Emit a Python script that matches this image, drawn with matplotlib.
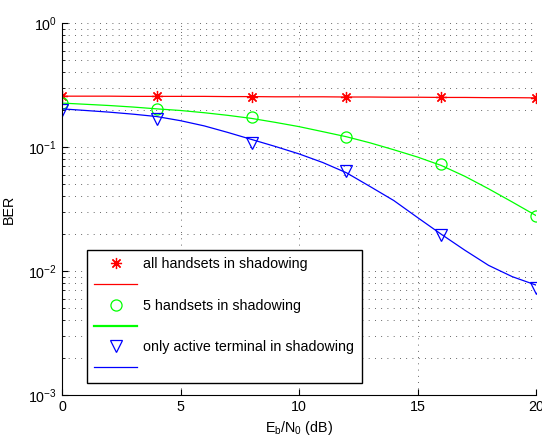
import numpy as np
import matplotlib
matplotlib.use("Agg")
import matplotlib.pyplot as plt
from matplotlib.lines import Line2D

plt.rcParams["font.family"] = ["Liberation Sans", "DejaVu Sans"]
plt.rcParams["mathtext.default"] = "regular"

# simulated points (markers)
snr_pts = [0, 4, 8, 12, 16, 20]
ber_all_pts = [0.257, 0.256, 0.255, 0.253, 0.251, 0.249]
ber_five_pts = [0.226, 0.204, 0.173, 0.120, 0.0725, 0.028]
ber_active_pts = [0.200, 0.167, 0.108, 0.0637, 0.0194, 0.0073]

# fitted curves (lines)
snr_fit = list(range(21))
ber_all_fit = [0.257, 0.257, 0.257, 0.256, 0.256, 0.256, 0.256, 0.255, 0.255, 0.254, 0.254,
               0.254, 0.253, 0.253, 0.252, 0.252, 0.251, 0.251, 0.250, 0.250, 0.249]
ber_five_fit = [0.226, 0.221, 0.216, 0.210, 0.203, 0.197, 0.189, 0.180, 0.170, 0.158, 0.146,
                0.133, 0.121, 0.108, 0.095, 0.083, 0.071, 0.058, 0.046, 0.036, 0.028]
ber_active_fit = [0.203, 0.197, 0.191, 0.184, 0.176, 0.163, 0.148, 0.131, 0.115, 0.101, 0.088,
                  0.075, 0.062, 0.048, 0.037, 0.027, 0.0198, 0.0147, 0.0111, 0.0090, 0.0077]

labels = ["all handsets in shadowing", "5 handsets in shadowing",
          "only active terminal in shadowing"]

FS = 10.3
ASTER = (8, 2, 0)

fig = plt.figure(figsize=(5.42, 4.37), dpi=100)
ax = fig.add_axes([62 / 542, 1 - 395 / 437, 474 / 542, 372 / 437])

ax.plot(snr_pts, ber_all_pts, linestyle="none", marker=ASTER, color="red",
        markersize=8, markeredgewidth=0.9)
ax.plot(snr_fit, ber_all_fit, color="red", lw=0.9)
ax.plot(snr_pts, ber_five_pts, linestyle="none", marker="o", color="#00ff00",
        markerfacecolor="none", markersize=8, markeredgewidth=0.9)
ax.plot(snr_fit, ber_five_fit, color="#00ff00", lw=0.9)
ax.plot(snr_pts, ber_active_pts, linestyle="none", marker="v", color="blue",
        markerfacecolor="none", markersize=8, markeredgewidth=0.9)
ax.plot(snr_fit, ber_active_fit, color="blue", lw=0.9)

ax.set_yscale("log")
ax.set_xlim(0, 20)
ax.set_ylim(1e-3, 1)
ax.set_xticks([0, 5, 10, 15, 20])
grid_style = dict(color="0.2", linestyle=(0, (1, 6.5)), lw=0.6)
ax.grid(True, which="major", **grid_style)
ax.grid(True, which="minor", axis="y", **grid_style)
ax.tick_params(which="both", direction="in", labelsize=FS)
ax.tick_params(which="major", length=4)
ax.tick_params(which="minor", length=2)
ax.spines["top"].set_visible(False)
ax.spines["right"].set_visible(False)
ax.set_xlabel(r"E$_b$/N$_0$ (dB)", fontsize=FS, labelpad=4)
ax.set_ylabel("BER", fontsize=FS, labelpad=9)

# legend with marker rows and line rows, matlab style
handles = [
    Line2D([], [], linestyle="none", marker=ASTER, color="red", markersize=8, markeredgewidth=0.9),
    Line2D([], [], color="red", lw=0.9),
    Line2D([], [], linestyle="none", marker="o", color="#00ff00", markerfacecolor="none",
           markersize=8, markeredgewidth=0.9),
    Line2D([], [], color="#00ff00", lw=1.6),
    Line2D([], [], linestyle="none", marker="v", color="blue", markerfacecolor="none",
           markersize=8, markeredgewidth=0.9),
    Line2D([], [], color="blue", lw=0.9),
]
leg_labels = [labels[0], "", labels[1], "", labels[2], ""]
leg = ax.legend(handles, leg_labels, loc="upper left",
                bbox_to_anchor=(86.5 / 542, 1 - 249.5 / 437),
                bbox_transform=fig.transFigure, fontsize=FS,
                fancybox=False, framealpha=1, edgecolor="black",
                handlelength=3.0, handletextpad=0.4, labelspacing=0.47,
                borderpad=0.55, borderaxespad=0)
leg.get_frame().set_linewidth(1.0)

fig.savefig("out.png", dpi=100)
